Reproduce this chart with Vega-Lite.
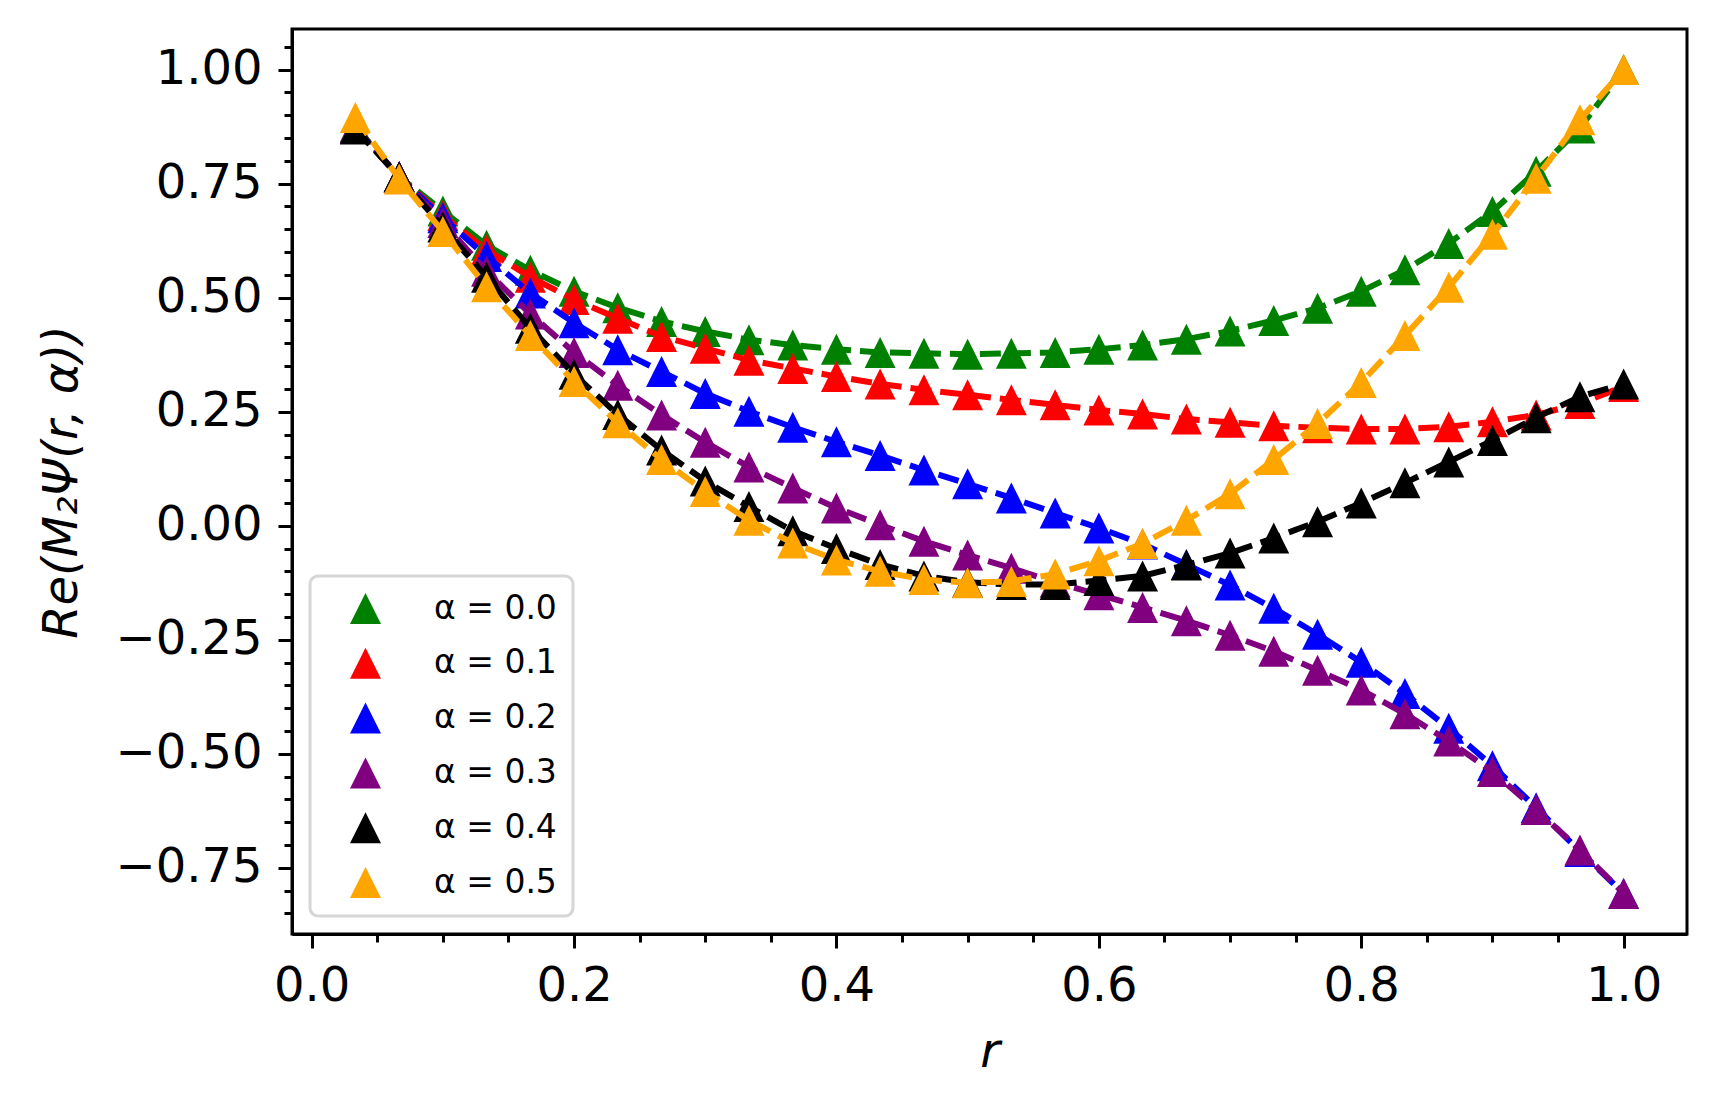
{
  "$schema": "https://vega.github.io/schema/vega-lite/v6.json",
  "width": 1395,
  "height": 905,
  "autosize": "none",
  "padding": {"left": 292, "top": 29, "right": 30, "bottom": 173},
  "background": "white",
  "config": {
    "view": {"stroke": "black", "strokeWidth": 3},
    "legend": {"strokeWidth": 3},
    "axis": {
      "grid": false,
      "domainColor": "black",
      "domainWidth": 3,
      "tickColor": "black",
      "tickWidth": 3,
      "labelFont": "DejaVu Sans",
      "labelFontSize": 48,
      "labelColor": "black",
      "labelOverlap": false,
      "labelFlush": false,
      "labelBound": false,
      "titleFont": "DejaVu Sans",
      "titleFontSize": 48,
      "titleFontWeight": "normal",
      "titleFontStyle": "italic",
      "titleColor": "black"
    }
  },
  "data": {
    "values": [
      {"a": "α = 0.0", "r": 0.0333, "v": 0.875}, {"a": "α = 0.0", "r": 0.0667, "v": 0.765}, {"a": "α = 0.0", "r": 0.1, "v": 0.69},
      {"a": "α = 0.0", "r": 0.1333, "v": 0.615}, {"a": "α = 0.0", "r": 0.1667, "v": 0.56}, {"a": "α = 0.0", "r": 0.2, "v": 0.514},
      {"a": "α = 0.0", "r": 0.2333, "v": 0.478}, {"a": "α = 0.0", "r": 0.2667, "v": 0.448}, {"a": "α = 0.0", "r": 0.3, "v": 0.426},
      {"a": "α = 0.0", "r": 0.3333, "v": 0.408}, {"a": "α = 0.0", "r": 0.3667, "v": 0.396}, {"a": "α = 0.0", "r": 0.4, "v": 0.387},
      {"a": "α = 0.0", "r": 0.4333, "v": 0.38}, {"a": "α = 0.0", "r": 0.4667, "v": 0.378}, {"a": "α = 0.0", "r": 0.5, "v": 0.376},
      {"a": "α = 0.0", "r": 0.5333, "v": 0.378}, {"a": "α = 0.0", "r": 0.5667, "v": 0.38}, {"a": "α = 0.0", "r": 0.6, "v": 0.387},
      {"a": "α = 0.0", "r": 0.6333, "v": 0.396}, {"a": "α = 0.0", "r": 0.6667, "v": 0.409}, {"a": "α = 0.0", "r": 0.7, "v": 0.427},
      {"a": "α = 0.0", "r": 0.7333, "v": 0.45}, {"a": "α = 0.0", "r": 0.7667, "v": 0.477}, {"a": "α = 0.0", "r": 0.8, "v": 0.514},
      {"a": "α = 0.0", "r": 0.8333, "v": 0.561}, {"a": "α = 0.0", "r": 0.8667, "v": 0.619}, {"a": "α = 0.0", "r": 0.9, "v": 0.689},
      {"a": "α = 0.0", "r": 0.9333, "v": 0.777}, {"a": "α = 0.0", "r": 0.9667, "v": 0.872}, {"a": "α = 0.0", "r": 1.0, "v": 1.0},

      {"a": "α = 0.1", "r": 0.0333, "v": 0.873}, {"a": "α = 0.1", "r": 0.0667, "v": 0.765}, {"a": "α = 0.1", "r": 0.1, "v": 0.68},
      {"a": "α = 0.1", "r": 0.1333, "v": 0.605}, {"a": "α = 0.1", "r": 0.1667, "v": 0.545}, {"a": "α = 0.1", "r": 0.2, "v": 0.496},
      {"a": "α = 0.1", "r": 0.2333, "v": 0.455}, {"a": "α = 0.1", "r": 0.2667, "v": 0.415}, {"a": "α = 0.1", "r": 0.3, "v": 0.389},
      {"a": "α = 0.1", "r": 0.3333, "v": 0.363}, {"a": "α = 0.1", "r": 0.3667, "v": 0.345}, {"a": "α = 0.1", "r": 0.4, "v": 0.327},
      {"a": "α = 0.1", "r": 0.4333, "v": 0.311}, {"a": "α = 0.1", "r": 0.4667, "v": 0.298}, {"a": "α = 0.1", "r": 0.5, "v": 0.287},
      {"a": "α = 0.1", "r": 0.5333, "v": 0.276}, {"a": "α = 0.1", "r": 0.5667, "v": 0.265}, {"a": "α = 0.1", "r": 0.6, "v": 0.254},
      {"a": "α = 0.1", "r": 0.6333, "v": 0.245}, {"a": "α = 0.1", "r": 0.6667, "v": 0.234}, {"a": "α = 0.1", "r": 0.7, "v": 0.227},
      {"a": "α = 0.1", "r": 0.7333, "v": 0.219}, {"a": "α = 0.1", "r": 0.7667, "v": 0.215}, {"a": "α = 0.1", "r": 0.8, "v": 0.212},
      {"a": "α = 0.1", "r": 0.8333, "v": 0.212}, {"a": "α = 0.1", "r": 0.8667, "v": 0.217}, {"a": "α = 0.1", "r": 0.9, "v": 0.228},
      {"a": "α = 0.1", "r": 0.9333, "v": 0.243}, {"a": "α = 0.1", "r": 0.9667, "v": 0.268}, {"a": "α = 0.1", "r": 1.0, "v": 0.305},

      {"a": "α = 0.2", "r": 0.0333, "v": 0.872}, {"a": "α = 0.2", "r": 0.0667, "v": 0.765}, {"a": "α = 0.2", "r": 0.1, "v": 0.675},
      {"a": "α = 0.2", "r": 0.1333, "v": 0.59}, {"a": "α = 0.2", "r": 0.1667, "v": 0.51}, {"a": "α = 0.2", "r": 0.2, "v": 0.445},
      {"a": "α = 0.2", "r": 0.2333, "v": 0.386}, {"a": "α = 0.2", "r": 0.2667, "v": 0.338}, {"a": "α = 0.2", "r": 0.3, "v": 0.29},
      {"a": "α = 0.2", "r": 0.3333, "v": 0.251}, {"a": "α = 0.2", "r": 0.3667, "v": 0.216}, {"a": "α = 0.2", "r": 0.4, "v": 0.184},
      {"a": "α = 0.2", "r": 0.4333, "v": 0.154}, {"a": "α = 0.2", "r": 0.4667, "v": 0.122}, {"a": "α = 0.2", "r": 0.5, "v": 0.092},
      {"a": "α = 0.2", "r": 0.5333, "v": 0.061}, {"a": "α = 0.2", "r": 0.5667, "v": 0.028}, {"a": "α = 0.2", "r": 0.6, "v": -0.005},
      {"a": "α = 0.2", "r": 0.6333, "v": -0.04}, {"a": "α = 0.2", "r": 0.6667, "v": -0.085}, {"a": "α = 0.2", "r": 0.7, "v": -0.13},
      {"a": "α = 0.2", "r": 0.7333, "v": -0.181}, {"a": "α = 0.2", "r": 0.7667, "v": -0.238}, {"a": "α = 0.2", "r": 0.8, "v": -0.299},
      {"a": "α = 0.2", "r": 0.8333, "v": -0.368}, {"a": "α = 0.2", "r": 0.8667, "v": -0.444}, {"a": "α = 0.2", "r": 0.9, "v": -0.526},
      {"a": "α = 0.2", "r": 0.9333, "v": -0.618}, {"a": "α = 0.2", "r": 0.9667, "v": -0.714}, {"a": "α = 0.2", "r": 1.0, "v": -0.806},

      {"a": "α = 0.3", "r": 0.0333, "v": 0.871}, {"a": "α = 0.3", "r": 0.0667, "v": 0.765}, {"a": "α = 0.3", "r": 0.1, "v": 0.665},
      {"a": "α = 0.3", "r": 0.1333, "v": 0.558}, {"a": "α = 0.3", "r": 0.1667, "v": 0.464}, {"a": "α = 0.3", "r": 0.2, "v": 0.38},
      {"a": "α = 0.3", "r": 0.2333, "v": 0.308}, {"a": "α = 0.3", "r": 0.2667, "v": 0.243}, {"a": "α = 0.3", "r": 0.3, "v": 0.183},
      {"a": "α = 0.3", "r": 0.3333, "v": 0.129}, {"a": "α = 0.3", "r": 0.3667, "v": 0.083}, {"a": "α = 0.3", "r": 0.4, "v": 0.039},
      {"a": "α = 0.3", "r": 0.4333, "v": 0.002}, {"a": "α = 0.3", "r": 0.4667, "v": -0.034}, {"a": "α = 0.3", "r": 0.5, "v": -0.064},
      {"a": "α = 0.3", "r": 0.5333, "v": -0.093}, {"a": "α = 0.3", "r": 0.5667, "v": -0.124}, {"a": "α = 0.3", "r": 0.6, "v": -0.151},
      {"a": "α = 0.3", "r": 0.6333, "v": -0.179}, {"a": "α = 0.3", "r": 0.6667, "v": -0.208}, {"a": "α = 0.3", "r": 0.7, "v": -0.24},
      {"a": "α = 0.3", "r": 0.7333, "v": -0.275}, {"a": "α = 0.3", "r": 0.7667, "v": -0.317}, {"a": "α = 0.3", "r": 0.8, "v": -0.36},
      {"a": "α = 0.3", "r": 0.8333, "v": -0.412}, {"a": "α = 0.3", "r": 0.8667, "v": -0.472}, {"a": "α = 0.3", "r": 0.9, "v": -0.539},
      {"a": "α = 0.3", "r": 0.9333, "v": -0.622}, {"a": "α = 0.3", "r": 0.9667, "v": -0.711}, {"a": "α = 0.3", "r": 1.0, "v": -0.806},

      {"a": "α = 0.4", "r": 0.0333, "v": 0.87}, {"a": "α = 0.4", "r": 0.0667, "v": 0.765}, {"a": "α = 0.4", "r": 0.1, "v": 0.655},
      {"a": "α = 0.4", "r": 0.1333, "v": 0.545}, {"a": "α = 0.4", "r": 0.1667, "v": 0.433}, {"a": "α = 0.4", "r": 0.2, "v": 0.332},
      {"a": "α = 0.4", "r": 0.2333, "v": 0.244}, {"a": "α = 0.4", "r": 0.2667, "v": 0.166}, {"a": "α = 0.4", "r": 0.3, "v": 0.098},
      {"a": "α = 0.4", "r": 0.3333, "v": 0.042}, {"a": "α = 0.4", "r": 0.3667, "v": -0.011}, {"a": "α = 0.4", "r": 0.4, "v": -0.05},
      {"a": "α = 0.4", "r": 0.4333, "v": -0.085}, {"a": "α = 0.4", "r": 0.4667, "v": -0.11}, {"a": "α = 0.4", "r": 0.5, "v": -0.124},
      {"a": "α = 0.4", "r": 0.5333, "v": -0.129}, {"a": "α = 0.4", "r": 0.5667, "v": -0.129}, {"a": "α = 0.4", "r": 0.6, "v": -0.12},
      {"a": "α = 0.4", "r": 0.6333, "v": -0.11}, {"a": "α = 0.4", "r": 0.6667, "v": -0.086}, {"a": "α = 0.4", "r": 0.7, "v": -0.06},
      {"a": "α = 0.4", "r": 0.7333, "v": -0.027}, {"a": "α = 0.4", "r": 0.7667, "v": 0.009}, {"a": "α = 0.4", "r": 0.8, "v": 0.05},
      {"a": "α = 0.4", "r": 0.8333, "v": 0.094}, {"a": "α = 0.4", "r": 0.8667, "v": 0.14}, {"a": "α = 0.4", "r": 0.9, "v": 0.187},
      {"a": "α = 0.4", "r": 0.9333, "v": 0.237}, {"a": "α = 0.4", "r": 0.9667, "v": 0.283}, {"a": "α = 0.4", "r": 1.0, "v": 0.311},

      {"a": "α = 0.5", "r": 0.0333, "v": 0.895}, {"a": "α = 0.5", "r": 0.0667, "v": 0.76}, {"a": "α = 0.5", "r": 0.1, "v": 0.645},
      {"a": "α = 0.5", "r": 0.1333, "v": 0.524}, {"a": "α = 0.5", "r": 0.1667, "v": 0.417}, {"a": "α = 0.5", "r": 0.2, "v": 0.316},
      {"a": "α = 0.5", "r": 0.2333, "v": 0.226}, {"a": "α = 0.5", "r": 0.2667, "v": 0.145}, {"a": "α = 0.5", "r": 0.3, "v": 0.075},
      {"a": "α = 0.5", "r": 0.3333, "v": 0.012}, {"a": "α = 0.5", "r": 0.3667, "v": -0.038}, {"a": "α = 0.5", "r": 0.4, "v": -0.075},
      {"a": "α = 0.5", "r": 0.4333, "v": -0.1}, {"a": "α = 0.5", "r": 0.4667, "v": -0.118}, {"a": "α = 0.5", "r": 0.5, "v": -0.125},
      {"a": "α = 0.5", "r": 0.5333, "v": -0.122}, {"a": "α = 0.5", "r": 0.5667, "v": -0.106}, {"a": "α = 0.5", "r": 0.6, "v": -0.077},
      {"a": "α = 0.5", "r": 0.6333, "v": -0.039}, {"a": "α = 0.5", "r": 0.6667, "v": 0.012}, {"a": "α = 0.5", "r": 0.7, "v": 0.07},
      {"a": "α = 0.5", "r": 0.7333, "v": 0.145}, {"a": "α = 0.5", "r": 0.7667, "v": 0.224}, {"a": "α = 0.5", "r": 0.8, "v": 0.314},
      {"a": "α = 0.5", "r": 0.8333, "v": 0.417}, {"a": "α = 0.5", "r": 0.8667, "v": 0.523}, {"a": "α = 0.5", "r": 0.9, "v": 0.639},
      {"a": "α = 0.5", "r": 0.9333, "v": 0.762}, {"a": "α = 0.5", "r": 0.9667, "v": 0.89}, {"a": "α = 0.5", "r": 1.0, "v": 1.0}
    ]
  },
  "encoding": {
    "x": {
      "field": "r",
      "type": "quantitative",
      "scale": {"domain": [-0.015, 1.0483], "nice": false, "zero": false},
      "axis": {
        "title": "r",
        "values": [0, 0.05, 0.1, 0.15, 0.2, 0.25, 0.3, 0.35, 0.4, 0.45, 0.5, 0.55, 0.6, 0.65, 0.7, 0.75, 0.8, 0.85, 0.9, 0.95, 1],
        "labelExpr": "abs(datum.value*5 - round(datum.value*5)) < 0.001 ? format(datum.value, '.1f') : ''",
        "tickSize": {"condition": {"test": "abs(datum.value*5 - round(datum.value*5)) < 0.001", "value": 14}, "value": 8},
        "labelPadding": 14,
        "titlePadding": 18
      }
    },
    "y": {
      "field": "v",
      "type": "quantitative",
      "scale": {"domain": [-0.895, 1.089], "nice": false, "zero": false},
      "axis": {
        "title": "Re(M₂Ψ(r, α))",
        "values": [-0.85, -0.8, -0.75, -0.7, -0.65, -0.6, -0.55, -0.5, -0.45, -0.4, -0.35, -0.3, -0.25, -0.2, -0.15, -0.1, -0.05, 0, 0.05, 0.1, 0.15, 0.2, 0.25, 0.3, 0.35, 0.4, 0.45, 0.5, 0.55, 0.6, 0.65, 0.7, 0.75, 0.8, 0.85, 0.9, 0.95, 1, 1.05],
        "labelExpr": "abs(datum.value*4 - round(datum.value*4)) < 0.001 ? format(datum.value, '.2f') : ''",
        "tickSize": {"condition": {"test": "abs(datum.value*4 - round(datum.value*4)) < 0.001", "value": 14}, "value": 8},
        "labelPadding": 16,
        "titlePadding": 28
      }
    }
  },
  "layer": [
    {
      "transform": [{"filter": "datum.a == 'α = 0.0'"}],
      "mark": {"type": "line", "color": "#008000", "strokeWidth": 6, "strokeDash": [21, 9], "strokeCap": "butt"},
      "encoding": {}
    },
    {
      "transform": [{"filter": "datum.a == 'α = 0.0'"}],
      "mark": {"type": "point", "filled": true, "opacity": 1, "shape": "M0,-1L-1,1L1,1Z", "size": 961, "strokeWidth": 0},
      "encoding": {
        "color": {"field": "a", "type": "nominal",
          "scale": {"domain": ["α = 0.0", "α = 0.1", "α = 0.2", "α = 0.3", "α = 0.4", "α = 0.5"], "range": ["#008000", "#ff0000", "#0000ff", "#800080", "#000000", "#ffa500"]},
          "legend": {"title": null, "orient": "bottom-left", "offset": 18, "padding": 16, "rowPadding": 20.8,
            "symbolType": "M0,-1L-1,1L1,1Z", "symbolSize": 961, "symbolStrokeWidth": 0, "symbolOffset": 23, "labelOffset": 52,
            "labelFont": "DejaVu Sans", "labelFontSize": 33, "labelColor": "black",
            "strokeColor": "#d6d6d6", "fillColor": "rgba(255,255,255,0.8)", "cornerRadius": 8}}
      }
    },
    {
      "transform": [{"filter": "datum.a == 'α = 0.1'"}],
      "mark": {"type": "line", "color": "#ff0000", "strokeWidth": 6, "strokeDash": [21, 9], "strokeCap": "butt"},
      "encoding": {}
    },
    {
      "transform": [{"filter": "datum.a == 'α = 0.1'"}],
      "mark": {"type": "point", "filled": true, "opacity": 1, "shape": "M0,-1L-1,1L1,1Z", "size": 961, "strokeWidth": 0},
      "encoding": {"color": {"field": "a", "type": "nominal"}}
    },
    {
      "transform": [{"filter": "datum.a == 'α = 0.2'"}],
      "mark": {"type": "line", "color": "#0000ff", "strokeWidth": 6, "strokeDash": [21, 9], "strokeCap": "butt"},
      "encoding": {}
    },
    {
      "transform": [{"filter": "datum.a == 'α = 0.2'"}],
      "mark": {"type": "point", "filled": true, "opacity": 1, "shape": "M0,-1L-1,1L1,1Z", "size": 961, "strokeWidth": 0},
      "encoding": {"color": {"field": "a", "type": "nominal"}}
    },
    {
      "transform": [{"filter": "datum.a == 'α = 0.3'"}],
      "mark": {"type": "line", "color": "#800080", "strokeWidth": 6, "strokeDash": [21, 9], "strokeCap": "butt"},
      "encoding": {}
    },
    {
      "transform": [{"filter": "datum.a == 'α = 0.3'"}],
      "mark": {"type": "point", "filled": true, "opacity": 1, "shape": "M0,-1L-1,1L1,1Z", "size": 961, "strokeWidth": 0},
      "encoding": {"color": {"field": "a", "type": "nominal"}}
    },
    {
      "transform": [{"filter": "datum.a == 'α = 0.4'"}],
      "mark": {"type": "line", "color": "#000000", "strokeWidth": 6, "strokeDash": [21, 9], "strokeCap": "butt"},
      "encoding": {}
    },
    {
      "transform": [{"filter": "datum.a == 'α = 0.4'"}],
      "mark": {"type": "point", "filled": true, "opacity": 1, "shape": "M0,-1L-1,1L1,1Z", "size": 961, "strokeWidth": 0},
      "encoding": {"color": {"field": "a", "type": "nominal"}}
    },
    {
      "transform": [{"filter": "datum.a == 'α = 0.5'"}],
      "mark": {"type": "line", "color": "#ffa500", "strokeWidth": 6, "strokeDash": [21, 9], "strokeCap": "butt"},
      "encoding": {}
    },
    {
      "transform": [{"filter": "datum.a == 'α = 0.5'"}],
      "mark": {"type": "point", "filled": true, "opacity": 1, "shape": "M0,-1L-1,1L1,1Z", "size": 961, "strokeWidth": 0},
      "encoding": {"color": {"field": "a", "type": "nominal"}}
    }
  ]
}
